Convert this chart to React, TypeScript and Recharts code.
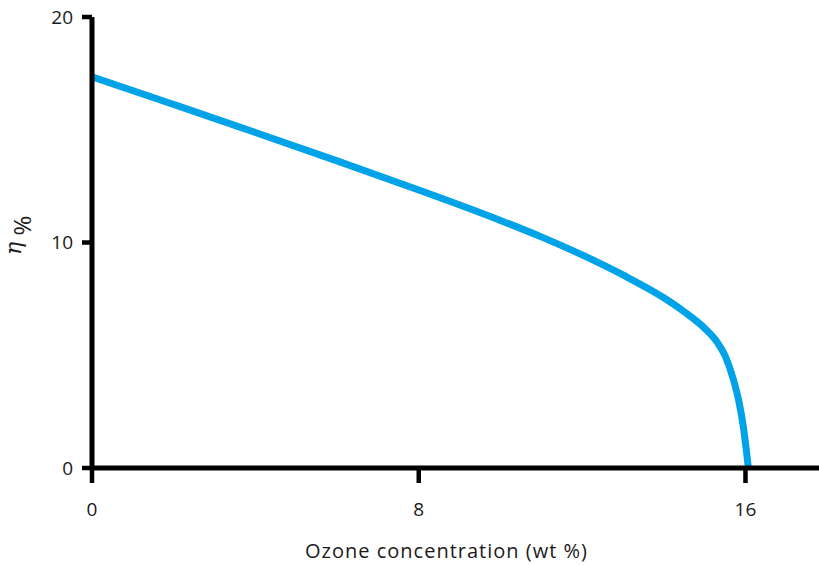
import React from "react";
import { LineChart, Line, XAxis, YAxis } from "recharts";

const ozone = [0, 2, 4, 6, 8, 10, 11, 12, 13, 14, 14.5, 15, 15.3, 15.5, 15.7, 15.85, 15.95, 16.02, 16.07];
const eta = [17.35, 16.12, 14.88, 13.62, 12.33, 10.98, 10.25, 9.45, 8.56, 7.55, 6.93, 6.2, 5.6, 4.98, 3.95, 2.85, 1.8, 0.8, 0];
const xTicks = [0, 8, 16];
const yTicks = [0, 10, 20];

const data = ozone.map((x, i) => ({ x, y: eta[i] }));

const FONT = "'Open Sans', 'Noto Sans', sans-serif";
const TXT = "#1a1a1a";

const XLabel = (props: any) => {
  const vb = props.viewBox || {};
  const cx = vb.x + vb.width / 2 - 9;
  return (
    <text x={cx} y={vb.y + vb.height - 7} textAnchor="middle" fontFamily={FONT} fontSize={20} letterSpacing={1} fill={TXT}>
      Ozone concentration (wt %)
    </text>
  );
};

const YLabel = (props: any) => {
  const vb = props.viewBox || {};
  const mid = vb.y + vb.height / 2;
  const etaX = vb.x + 21;
  const etaY = mid + 6;
  const pctX = vb.x + 31;
  const pctY = mid - 17;
  return (
    <g>
      <text x={etaX} y={etaY} transform={`rotate(-90 ${etaX} ${etaY})`} textAnchor="middle" fontFamily="'DejaVu Serif', serif" fontStyle="italic" fontSize={22} fill={TXT}>
        η
      </text>
      <text x={pctX} y={pctY} transform={`rotate(-90 ${pctX} ${pctY})`} textAnchor="middle" fontFamily={FONT} fontSize={24} fill={TXT}>
        %
      </text>
    </g>
  );
};

export default function App() {
  return (
    <div style={{ position: "absolute", left: 0, top: 0, width: 819, height: 565 }}>
      <LineChart width={819} height={565} data={data} margin={{ top: 17, right: 0, bottom: 0, left: 0 }}>
        <XAxis
          type="number"
          dataKey="x"
          domain={[0, 17.8]}
          ticks={xTicks}
          allowDataOverflow
          tickSize={15}
          tickMargin={20}
          height={97}
          axisLine={{ stroke: "#000", strokeWidth: 5 }}
          tickLine={{ stroke: "#000", strokeWidth: 4.5 }}
          tick={{ fontFamily: FONT, fontSize: 19, fill: TXT }}
          label={<XLabel />}
        />
        <YAxis
          type="number"
          domain={[0, 20]}
          ticks={yTicks}
          width={92}
          tickSize={10}
          tickMargin={9}
          axisLine={{ stroke: "#000", strokeWidth: 5 }}
          tickLine={{ stroke: "#000", strokeWidth: 4.5 }}
          tick={{ fontFamily: FONT, fontSize: 19, fill: TXT }}
          label={<YLabel />}
        />
        <Line
          type="monotone"
          dataKey="y"
          stroke="#00A2E8"
          strokeWidth={7}
          dot={false}
          isAnimationActive={false}
        />
      </LineChart>
    </div>
  );
}
